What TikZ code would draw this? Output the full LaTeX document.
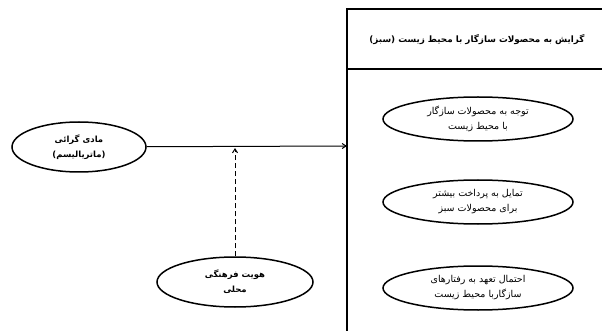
\documentclass[tikz,border=0pt]{standalone}
\usepackage{fontspec}
\newfontfamily\fafont[Script=Arabic]{DejaVu Sans}
\TeXXeTstate=1
\usetikzlibrary{shapes.geometric,arrows.meta}
\newcommand{\fatext}[1]{\beginR #1\endR}

\begin{document}
\begin{tikzpicture}[x=1pt, y=-1pt,
    factor/.style={ellipse, draw=black, line width=1.5pt, fill=white,
        inner sep=0pt, align=center,
        font=\fafont\bfseries\fontsize{8.5}{15}\selectfont},
    outcome/.style={ellipse, draw=black, line width=1.5pt, fill=white,
        minimum width=190pt, minimum height=44pt, inner sep=0pt,
        align=center, font=\fafont\fontsize{9.5}{15}\selectfont},
    edge/.style={line width=1pt, -{Straight Barb[length=4pt,width=5pt]}},
    moderate/.style={edge, dashed, dash pattern=on 5pt off 3pt}
]
    \useasboundingbox (0,0) rectangle (602,331);
    % outcome panel
    \draw[line width=1.2pt] (347,9) rectangle (615,345);
    \draw[line width=1.2pt] (347,69) -- (615,69);
    \node[font=\fafont\bfseries\fontsize{8.8}{10}\selectfont]
        (head) at (477,40) {\fatext{گرایش به محصولات سازگار با محیط زیست (سبز)}};
    \coordinate (panel) at (347,146);

    \node[outcome] (o1) at (478,119) {\fatext{توجه به محصولات سازگار}\\ \fatext{با محیط زیست}};
    \node[outcome] (o2) at (478,202) {\fatext{تمایل به پرداخت بیشتر}\\ \fatext{برای محصولات سبز}};
    \node[outcome] (o3) at (478,288) {\fatext{احتمال تعهد به رفتارهای}\\ \fatext{سازگاربا محیط زیست}};

    \node[factor, minimum width=134pt, minimum height=50pt] (mat) at (79,147)
        {\fatext{مادی گرائی}\\ \fatext{(ماتریالیسم)}};
    \node[factor, minimum width=156pt, minimum height=50pt] (local) at (235,282)
        {\fatext{هویت فرهنگی}\\ \fatext{محلی}};
    \coordinate (hit) at (235,148);

    \draw[edge] (mat) -- (panel);
    \draw[moderate] (local) -- (hit);
\end{tikzpicture}
\end{document}
